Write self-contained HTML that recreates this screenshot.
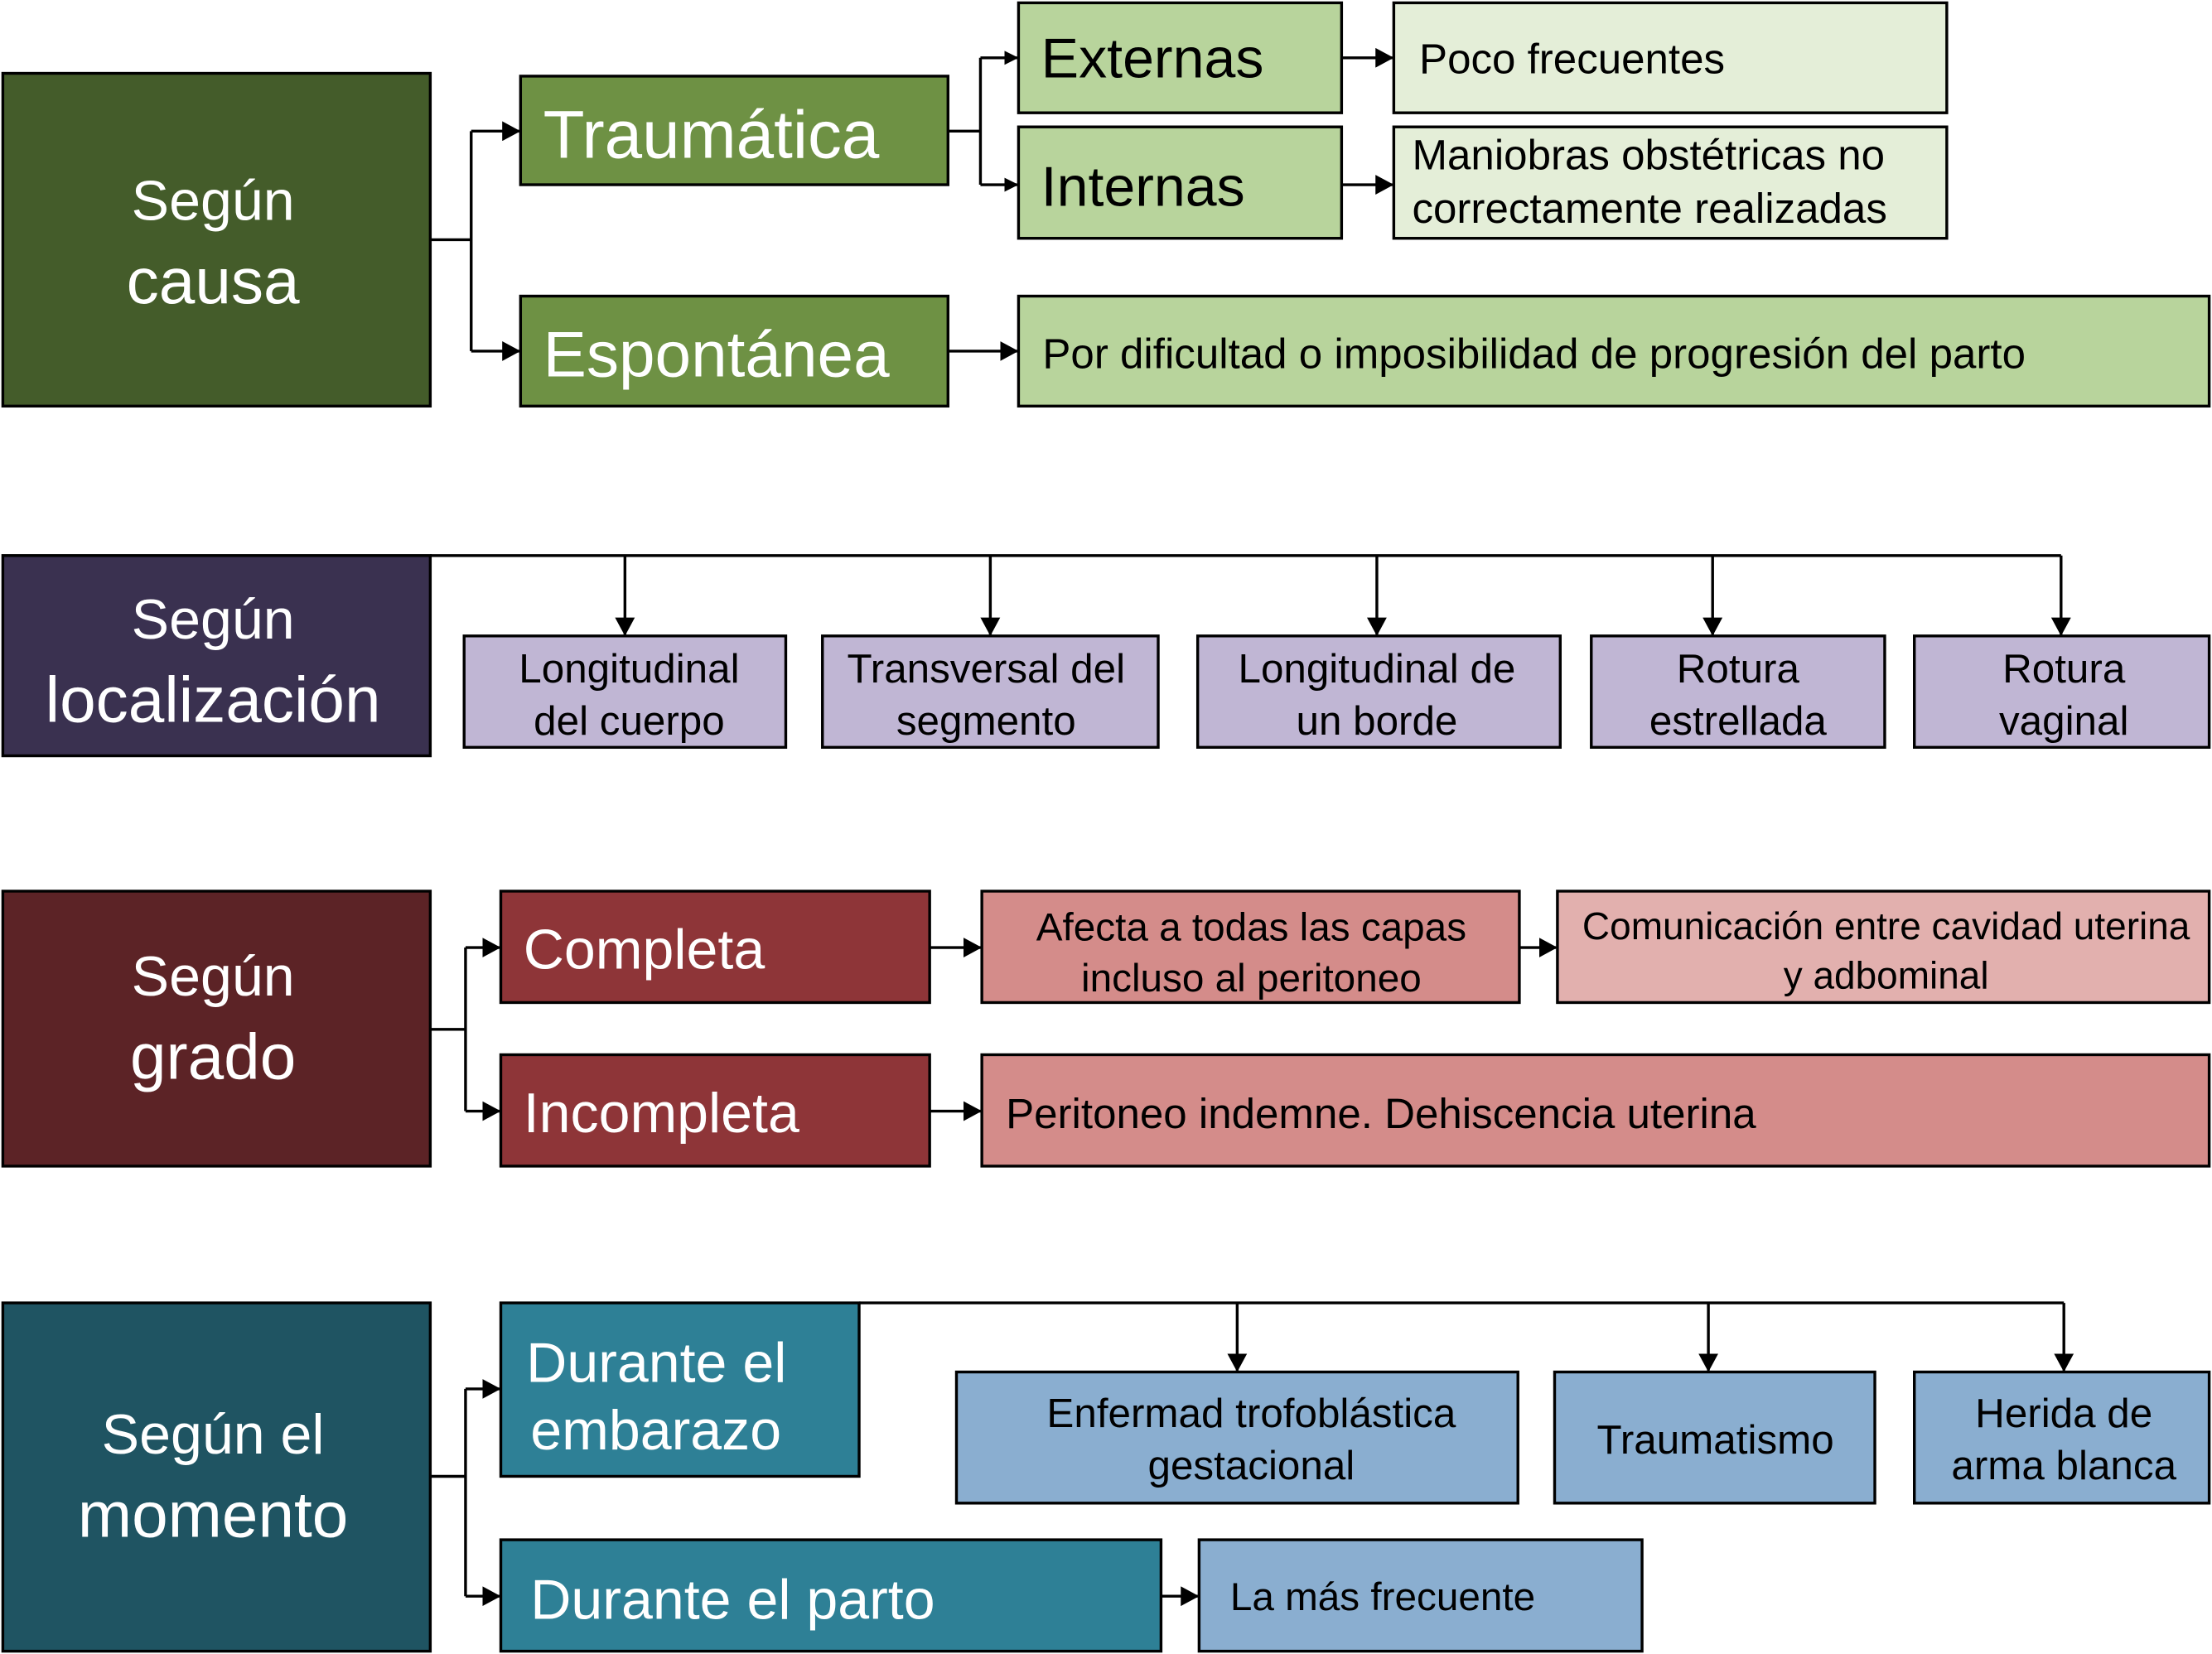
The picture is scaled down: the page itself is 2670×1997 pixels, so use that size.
<!DOCTYPE html>
<html><head><meta charset="utf-8"><style>
html,body{margin:0;padding:0;background:#fff;}
svg{display:block;}
text{font-family:"Liberation Sans",Arial,sans-serif;}
</style></head><body>
<svg width="2670" height="1997" viewBox="0 0 1568 1173" preserveAspectRatio="none" xmlns="http://www.w3.org/2000/svg">
<defs>
<marker id="a" markerWidth="10" markerHeight="10" refX="9" refY="5" orient="auto" markerUnits="userSpaceOnUse">
<path d="M0,0 L10,5 L0,10 z" fill="#000"/></marker>
<marker id="d" markerWidth="14" markerHeight="14" refX="12" refY="7" orient="auto" markerUnits="userSpaceOnUse">
<path d="M0,0 L13,7 L0,14 z" fill="#000"/></marker>
</defs>
<g stroke="#000" stroke-width="2">
<!-- causa -->
<rect x="2" y="52" width="303" height="236" fill="#445c2a"/>
<rect x="369" y="54" width="303" height="77" fill="#6e9144"/>
<rect x="369" y="210" width="303" height="78" fill="#6e9144"/>
<rect x="722" y="2" width="229" height="78" fill="#b8d49c"/>
<rect x="722" y="90" width="229" height="79" fill="#b8d49c"/>
<rect x="988" y="2" width="392" height="78" fill="#e4eed8"/>
<rect x="988" y="90" width="392" height="79" fill="#e4eed8"/>
<rect x="722" y="210" width="844" height="78" fill="#b8d49c"/>
<!-- localizacion -->
<rect x="2" y="394" width="303" height="142" fill="#3a3150"/>
<rect x="329" y="451" width="228" height="79" fill="#c0b6d4"/>
<rect x="583" y="451" width="238" height="79" fill="#c0b6d4"/>
<rect x="849" y="451" width="257" height="79" fill="#c0b6d4"/>
<rect x="1128" y="451" width="208" height="79" fill="#c0b6d4"/>
<rect x="1357" y="451" width="209" height="79" fill="#c0b6d4"/>
<!-- grado -->
<rect x="2" y="632" width="303" height="195" fill="#5c2326"/>
<rect x="355" y="632" width="304" height="79" fill="#8e3538"/>
<rect x="355" y="748" width="304" height="79" fill="#8e3538"/>
<rect x="696" y="632" width="381" height="79" fill="#d48c8a"/>
<rect x="1104" y="632" width="462" height="79" fill="#e2b0ae"/>
<rect x="696" y="748" width="870" height="79" fill="#d48c8a"/>
<!-- momento -->
<rect x="2" y="924" width="303" height="247" fill="#1f5462"/>
<rect x="355" y="924" width="254" height="123" fill="#2e8096"/>
<rect x="355" y="1092" width="468" height="79" fill="#2e8096"/>
<rect x="678" y="973" width="398" height="93" fill="#8aaed0"/>
<rect x="1102" y="973" width="227" height="93" fill="#8aaed0"/>
<rect x="1357" y="973" width="209" height="93" fill="#8aaed0"/>
<rect x="850" y="1092" width="314" height="79" fill="#8aaed0"/>
</g>
<g stroke="#000" stroke-width="2" fill="none">
<path d="M305,170 H334 M334,93 V249"/>
<path d="M334,93 H368" marker-end="url(#d)"/>
<path d="M334,249 H368" marker-end="url(#d)"/>
<path d="M672,93 H695 M695,41 V131"/>
<path d="M695,41 H721" marker-end="url(#a)"/>
<path d="M695,131 H721" marker-end="url(#a)"/>
<path d="M951,41 H987" marker-end="url(#d)"/>
<path d="M951,131 H987" marker-end="url(#d)"/>
<path d="M672,249 H721" marker-end="url(#d)"/>
<path d="M305,394 H1461"/>
<path d="M443,394 V450" marker-end="url(#d)"/>
<path d="M702,394 V450" marker-end="url(#d)"/>
<path d="M976,394 V450" marker-end="url(#d)"/>
<path d="M1214,394 V450" marker-end="url(#d)"/>
<path d="M1461,394 V450" marker-end="url(#d)"/>
<path d="M305,730 H330 M330,672 V788"/>
<path d="M330,672 H354" marker-end="url(#d)"/>
<path d="M330,788 H354" marker-end="url(#d)"/>
<path d="M659,672 H695" marker-end="url(#d)"/>
<path d="M659,788 H695" marker-end="url(#d)"/>
<path d="M1077,672 H1103" marker-end="url(#d)"/>
<path d="M305,1047 H330 M330,985 V1132"/>
<path d="M330,985 H354" marker-end="url(#d)"/>
<path d="M330,1132 H354" marker-end="url(#d)"/>
<path d="M609,924 H1463"/>
<path d="M877,924 V972" marker-end="url(#d)"/>
<path d="M1211,924 V972" marker-end="url(#d)"/>
<path d="M1463,924 V972" marker-end="url(#d)"/>
<path d="M823,1132 H849" marker-end="url(#d)"/>
</g>
<g fill="#fff" text-anchor="middle">
<text x="151" y="156" font-size="40">Según</text>
<text x="151" y="215" font-size="46">causa</text>
<text x="151" y="453" font-size="40">Según</text>
<text x="151" y="512" font-size="46">localización</text>
<text x="151" y="706" font-size="40">Según</text>
<text x="151" y="765" font-size="46">grado</text>
<text x="151" y="1031" font-size="40">Según el</text>
<text x="151" y="1090" font-size="46">momento</text>
</g>
<g fill="#fff">
<text x="385" y="112" font-size="48">Traumática</text>
<text x="385" y="267" font-size="46">Espontánea</text>
<text x="371" y="687" font-size="40">Completa</text>
<text x="371" y="803" font-size="40">Incompleta</text>
<text x="373" y="980" font-size="40">Durante el</text>
<text x="376" y="1028" font-size="40">embarazo</text>
<text x="376" y="1148" font-size="40">Durante el parto</text>
</g>
<g fill="#000">
<text x="738" y="55" font-size="40">Externas</text>
<text x="738" y="146" font-size="40">Internas</text>
<text x="1006" y="52" font-size="30">Poco frecuentes</text>
<text x="1001" y="120" font-size="30">Maniobras obstétricas no</text>
<text x="1001" y="158" font-size="30">correctamente realizadas</text>
<text x="739" y="261" font-size="30">Por dificultad o imposibilidad de progresión del parto</text>
<text x="713" y="800" font-size="30">Peritoneo indemne. Dehiscencia uterina</text>
<text x="872" y="1142" font-size="28">La más frecuente</text>
</g>
<g fill="#000" text-anchor="middle" font-size="29">
<text x="446" y="484">Longitudinal</text><text x="446" y="521">del cuerpo</text>
<text x="699" y="484">Transversal del</text><text x="699" y="521">segmento</text>
<text x="976" y="484">Longitudinal de</text><text x="976" y="521">un borde</text>
<text x="1232" y="484">Rotura</text><text x="1232" y="521">estrellada</text>
<text x="1463" y="484">Rotura</text><text x="1463" y="521">vaginal</text>
<text x="887" y="667" font-size="28">Afecta a todas las capas</text><text x="887" y="703" font-size="28">incluso al peritoneo</text>
<text x="1337" y="666" font-size="27">Comunicación entre cavidad uterina</text><text x="1337" y="701" font-size="27">y adbominal</text>
<text x="887" y="1012">Enfermad trofoblástica</text><text x="887" y="1049">gestacional</text>
<text x="1216" y="1031">Traumatismo</text>
<text x="1463" y="1012">Herida de</text><text x="1463" y="1049">arma blanca</text>
</g>
</svg>
</body></html>
